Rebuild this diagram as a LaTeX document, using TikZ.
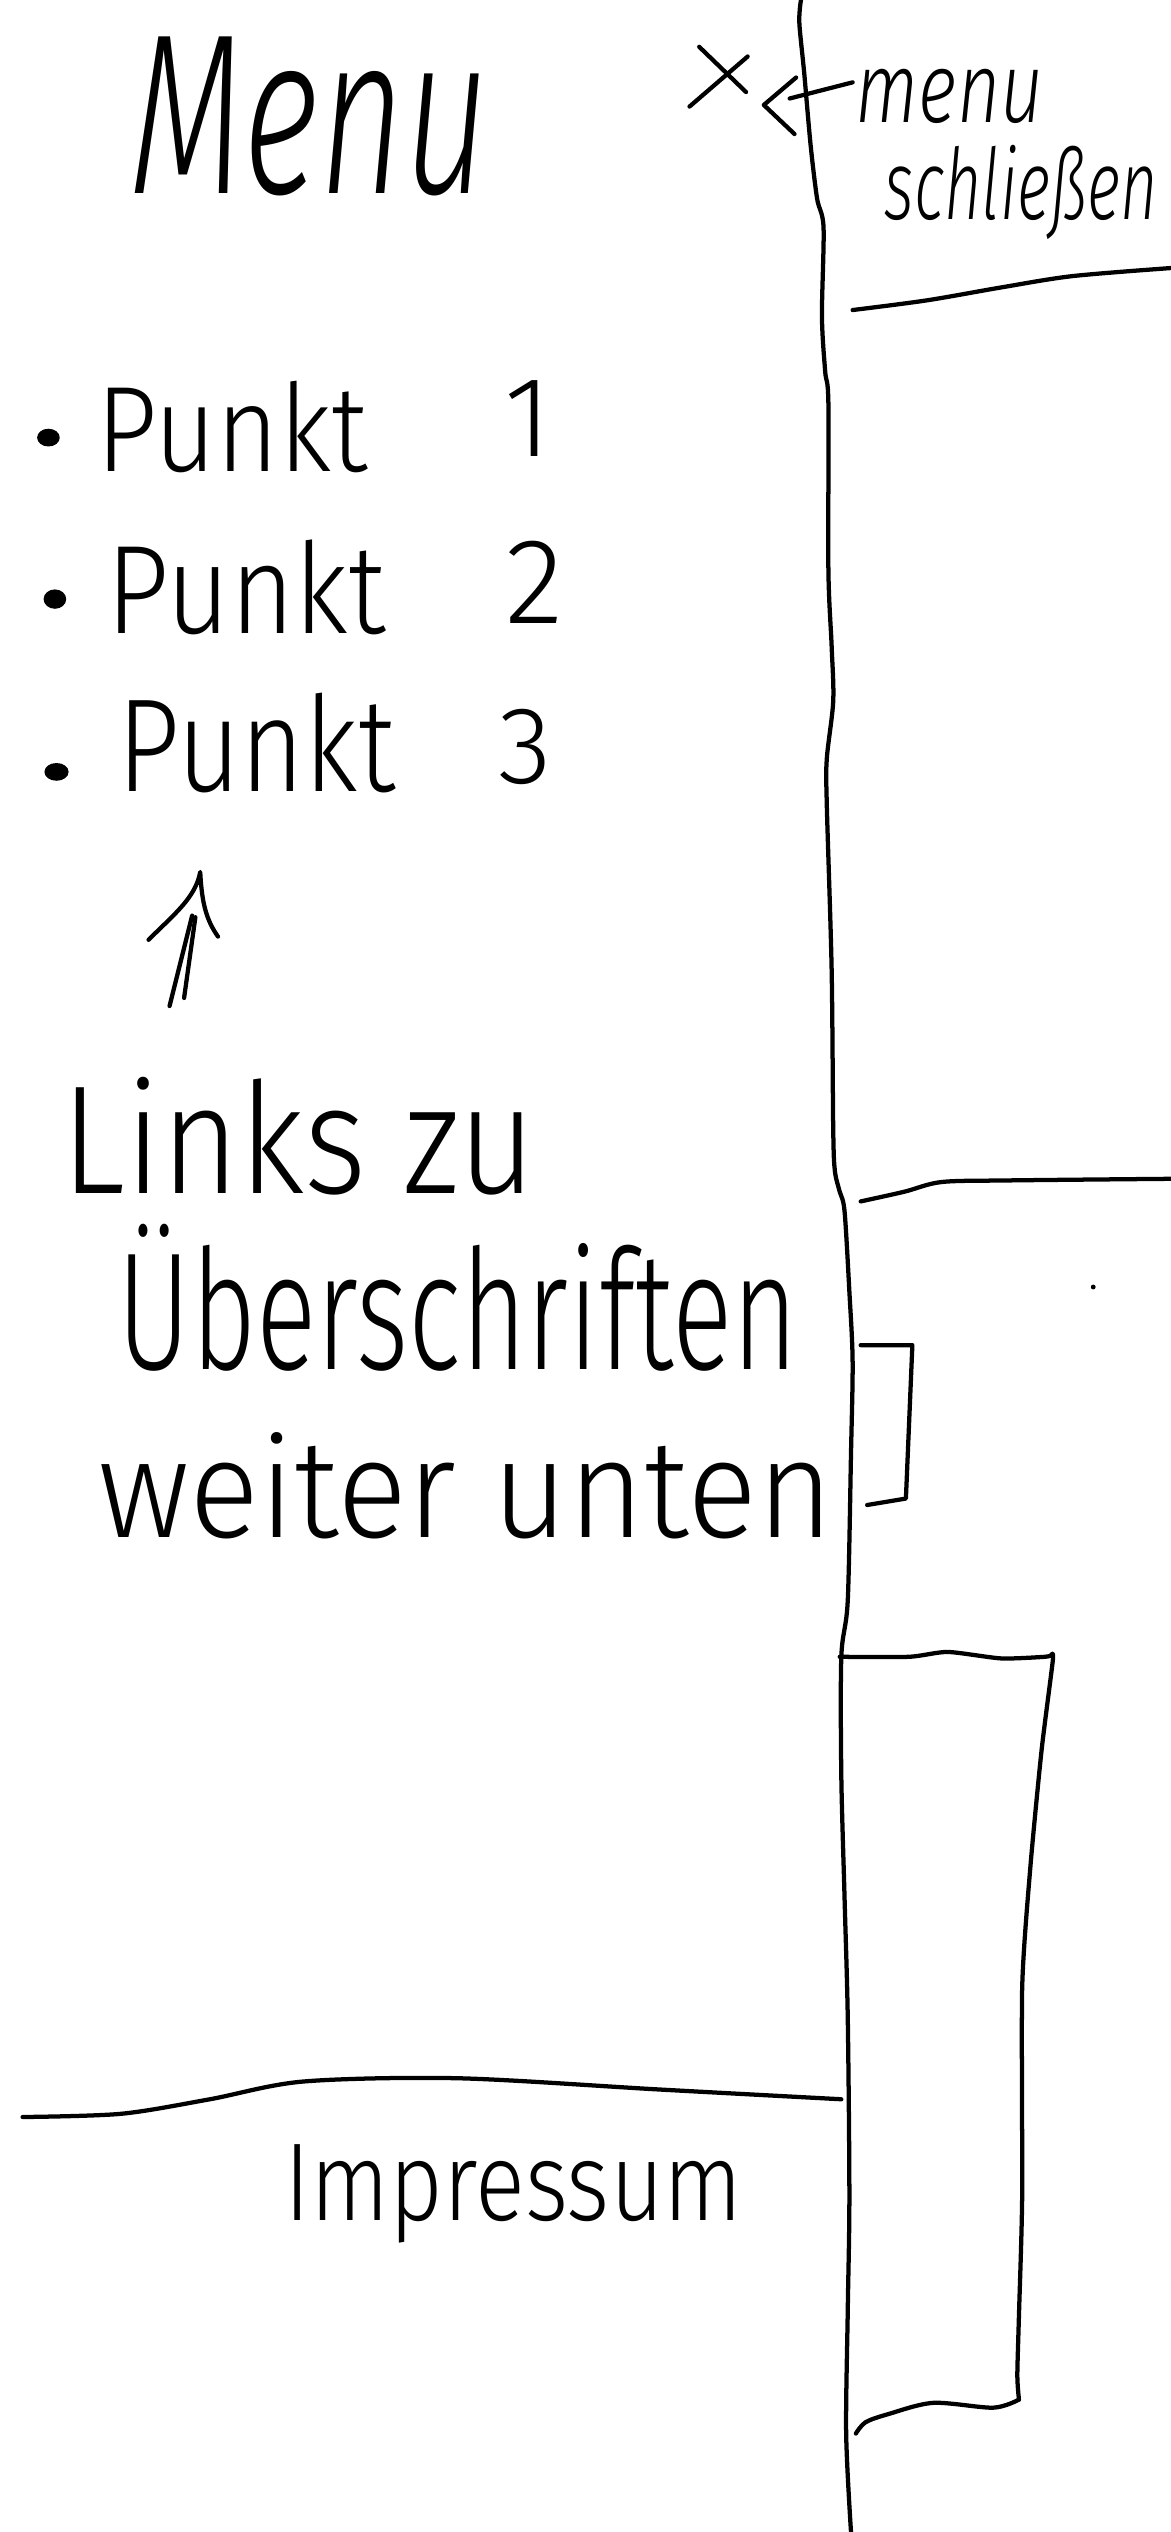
\documentclass[tikz,border=0pt]{standalone}
\usepackage{fontspec}
\usepackage{graphicx}
\newfontfamily\handfont{Fira Sans Light}[ItalicFont={Fira Sans Light Italic}]
\begin{document}
\begin{tikzpicture}[x=0.02cm,y=-0.02cm,
  pen/.style={line width=1.5pt,line cap=round,line join=round},
  hand/.style={inner sep=0pt,outer sep=0pt,anchor=base west,font=\handfont},
  handc/.style={inner sep=0pt,outer sep=0pt,anchor=base,font=\handfont},
  bulletfill/.style={fill=black},
  tinydot/.style={circle,fill=black,inner sep=0pt,minimum size=0.06cm}]
\useasboundingbox (0,0) rectangle (725,1568);
\fill[white] (0,0) rectangle (725,1568);

% texts
\node[hand] (menu) at (81,120) {\resizebox{4.44cm}{1.94cm}{\itshape Menu}};
\node[hand] (close1) at (530,76) {\resizebox{2.32cm}{0.66cm}{\itshape menu}};
\node[hand] (close2) at (548,136) {\resizebox{3.38cm}{0.92cm}{\itshape schließen}};

\coordinate (b1) at (30,271);
\coordinate (b2) at (34,371);
\coordinate (b3) at (35,478);
\fill[bulletfill] (b1) ellipse [x radius=0.14cm, y radius=0.11cm];
\fill[bulletfill] (b2) ellipse [x radius=0.14cm, y radius=0.12cm];
\fill[bulletfill] (b3) ellipse [x radius=0.15cm, y radius=0.11cm];

\node[hand] (p1) at (60,292) {\resizebox{3.36cm}{1.12cm}{Punkt}};
\node[handc] (n1) at (327,283) {\resizebox{!}{0.94cm}{1}};
\node[hand] (p2) at (66,392) {\resizebox{3.46cm}{1.16cm}{Punkt}};
\node[handc] (n2) at (331,386) {\resizebox{!}{1.02cm}{2}};
\node[hand] (p3) at (73,490) {\resizebox{3.44cm}{1.22cm}{Punkt}};
\node[handc] (n3) at (325,485) {\resizebox{!}{0.92cm}{3}};

\node[hand] (links) at (38,739) {\resizebox{5.88cm}{1.44cm}{Links zu}};
\node[hand] (ueber) at (73,848) {\resizebox{8.42cm}{1.8cm}{Überschriften}};
\node[hand] (weiter) at (61,952) {\resizebox{9.10cm}{1.3cm}{weiter unten}};
\node[hand] (impr) at (176,1375) {\resizebox{5.68cm}{0.94cm}{Impressum}};

% close cross and arrow
\coordinate (xa1) at (433,29); \coordinate (xa2) at (462,57);
\coordinate (xb1) at (463,35); \coordinate (xb2) at (427,66);
\draw[pen] (xa1) -- (xa2);
\draw[pen] (xb1) -- (xb2);
\coordinate (tip) at (473,65);
\coordinate (tail) at (528,51);
\draw[pen] (493,48) -- (tip) -- (492,83);
\draw[pen] (489,61) -- (tail);

% up arrow
\coordinate (uptip) at (124,540);
\draw[pen] (92,582) .. controls (108,566) and (121,556) .. (uptip) .. controls (125,560) and (128,570) .. (135,580);
\draw[pen] (119,567) -- (105,623);
\draw[pen] (121,568) -- (114,618);

% vertical divider
\draw[pen] plot[smooth,tension=0.5] coordinates {(496,0) (495,14) (498,45) (502,90) (506,123) (510,141) (509,196) (511,230) (513,250) (513,353) (515,400) (516,434) (512,470) (512,498) (515,600) (516,700) (517,725) (520,738) (523,750) (526,800) (528,843) (527,900) (525,991) (521,1026) (521,1100) (523,1175) (525,1250) (526,1360) (525,1430) (524,1507) (527,1568)};

% right side horizontal lines
\draw[pen] plot[smooth,tension=0.5] coordinates {(528,192) (574,186) (620,178) (664,171) (725,166)};
\draw[pen] plot[smooth,tension=0.5] coordinates {(533,744) (560,738) (583,732) (624,731) (725,730)};
\draw[pen] (533,833) -- (565,833) -- (561,928) -- (537,932);
\node[tinydot] (spot) at (677,797) {};

% scroll box
\draw[pen] plot[smooth,tension=0.4] coordinates {(520,1026) (563,1026) (587,1023) (620,1027) (647,1026) (651,1025)};
\draw[pen] plot[smooth,tension=0.4] coordinates {(651,1025) (652,1028) (645,1084) (638,1157) (633,1231) (633,1360) (631,1434) (630,1471) (631,1486)};
\draw[pen] plot[smooth,tension=0.5] coordinates {(631,1486) (615,1491) (578,1488) (550,1495) (536,1500) (530,1507)};

% footer line
\draw[pen] plot[smooth,tension=0.5] coordinates {(14,1311) (75,1309) (130,1300) (188,1289) (284,1287) (409,1294) (521,1300)};
\end{tikzpicture}
\end{document}
